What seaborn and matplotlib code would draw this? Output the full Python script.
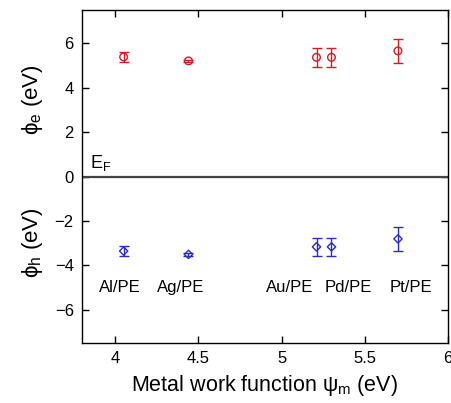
import numpy as np
import pandas as pd
import seaborn as sns
import matplotlib.pyplot as plt

# datos
metales = ["Al/PE", "Ag/PE", "Au/PE", "Pd/PE", "Pt/PE"]
psi_m = [4.05, 4.44, 5.21, 5.30, 5.70]
phi_e = [5.39, 5.21, 5.37, 5.37, 5.66]
err_e = [0.21, 0.06, 0.42, 0.42, 0.54]
phi_h = [-3.36, -3.51, -3.17, -3.17, -2.81]
err_h = [0.21, 0.06, 0.42, 0.42, 0.54]
etiqueta_x = [4.03, 4.39, 5.05, 5.40, 5.78]
etiqueta_y = -5.0

rojo = "#d41c24"
azul = "#2a2ad0"

sns.set_style("ticks")
plt.rcParams["font.family"] = ["Liberation Sans", "DejaVu Sans"]
plt.rcParams["text.color"] = "black"
plt.rcParams["axes.labelcolor"] = "black"
plt.rcParams["xtick.color"] = "black"
plt.rcParams["ytick.color"] = "black"

df = pd.DataFrame({"metal": metales, "psi": psi_m, "phi_e": phi_e, "phi_h": phi_h})

fig = plt.figure(figsize=(4.51, 4.03), dpi=100)
ax = fig.add_axes([0.182, 0.149, 0.811, 0.826])

ax.axhline(0, color="#444444", lw=1.6, zorder=1)

sns.scatterplot(data=df, x="psi", y="phi_e", ax=ax, marker="o", s=30, facecolor="none", edgecolor=rojo, linewidth=1, zorder=3)
sns.scatterplot(data=df, x="psi", y="phi_h", ax=ax, marker="D", s=18, facecolor="none", edgecolor=azul, linewidth=1, zorder=3)
ax.errorbar(df["psi"], df["phi_e"], yerr=err_e, fmt="none", ecolor=rojo, elinewidth=1, capsize=3.5, capthick=1, zorder=4)
ax.errorbar(df["psi"], df["phi_h"], yerr=err_h, fmt="none", ecolor=azul, elinewidth=1, capsize=3.5, capthick=1, zorder=4)

for x, t in zip(etiqueta_x, metales):
    ax.text(x, etiqueta_y, t, ha="center", va="center", fontsize=12)

ax.text(3.845, 0.15, "E$_\\mathregular{F}$", ha="left", va="bottom", fontsize=13)

ax.set_xlim(3.8, 6)
ax.set_ylim(-7.5, 7.5)
ax.set_xticks([4, 4.5, 5, 5.5, 6])
ax.set_xticklabels(["4", "4.5", "5", "5.5", "6"])
ax.set_yticks([-6, -4, -2, 0, 2, 4, 6])
ax.tick_params(direction="in", top=True, right=True, length=5, width=1, labelsize=12, pad=6)
for s in ax.spines.values():
    s.set_linewidth(1)
    s.set_color("black")

ax.set_xlabel("Metal work function ψ$_\\mathregular{m}$ (eV)", fontsize=15.5, labelpad=5)
ax.set_ylabel("")
ax.text(-0.135, 0.73, "ϕ$_\\mathregular{e}$ (eV)", transform=ax.transAxes, rotation=90,
        ha="center", va="center", fontsize=16)
ax.text(-0.135, 0.30, "ϕ$_\\mathregular{h}$ (eV)", transform=ax.transAxes, rotation=90,
        ha="center", va="center", fontsize=16)

fig.savefig("out.png", dpi=100)
